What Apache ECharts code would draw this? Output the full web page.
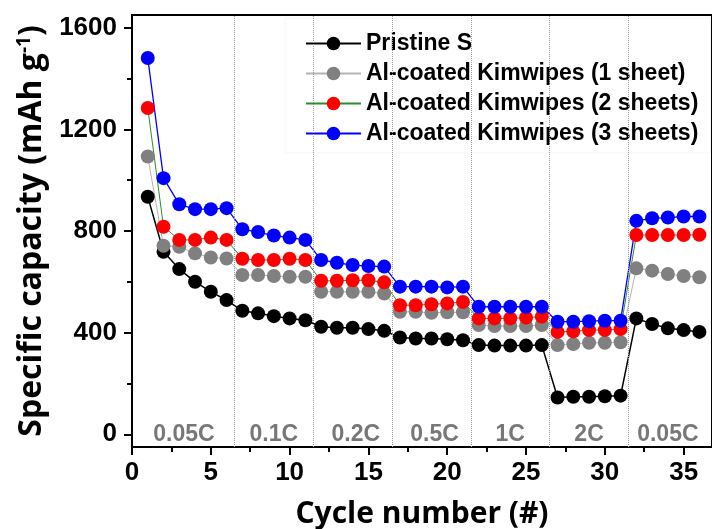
<!DOCTYPE html>
<html>
<head>
<meta charset="utf-8">
<script src="https://cdn.jsdelivr.net/npm/echarts@6/dist/echarts.min.js"></script>
<style>
  html, body { margin: 0; padding: 0; background: #fff; }
  #chart { width: 712px; height: 529px; }
</style>
</head>
<body>
<div id="chart"></div>
<script>
// Rate-capability data
const cycles = [1,2,3,4,5,6,7,8,9,10,11,12,13,14,15,16,17,18,19,20,21,22,23,24,25,26,27,28,29,30,31,32,33,34,35,36]
const pristine = [935,718,650,600,561,528,486,476,465,456,449,423,419,419,414,407,381,377,377,374,370,351,349,349,349,351,145,148,148,150,152,456,434,417,410,403]
const oneSheet = [1093,742,738,712,696,692,627,627,623,620,620,561,561,561,561,554,482,482,478,480,480,430,426,426,426,430,351,355,360,360,362,653,644,631,623,618]
const twoSheets = [1284,817,765,765,774,765,691,686,686,691,686,604,604,606,606,598,508,508,512,515,521,456,456,456,459,463,403,405,410,410,414,784,784,784,784,785]
const threeSheets = [1481,1008,905,886,886,890,807,796,782,774,765,686,675,666,662,660,581,581,581,578,581,502,502,502,502,502,443,443,445,447,447,840,850,853,857,857]

const seriesNames = ['Pristine S', 'Al-coated Kimwipes (1 sheet)', 'Al-coated Kimwipes (2 sheets)', 'Al-coated Kimwipes (3 sheets)']

// C-rate segments
const rateLabels = ['0.05C', '0.1C', '0.2C', '0.5C', '1C', '2C', '0.05C']
const rateCenters = [3.3, 9, 14.2, 19.2, 24, 29, 34]
const rateBounds = [6.5, 11.5, 16.5, 21.5, 26.5, 31.5]

const xMajor = [0, 5, 10, 15, 20, 25, 30, 35]
const xMinor = [2.5, 7.5, 12.5, 17.5, 22.5, 27.5, 32.5]
const yMajor = [0, 400, 800, 1200, 1600]
const yMinor = [200, 600, 1000, 1400]

const ARIAL = 'Liberation Sans'
const HUMAN = 'Open Sans'

function makeSeries(name, vals, dot, line, width) {
  return {
    name,
    type: 'line',
    data: cycles.map((c, i) => [c, vals[i]]),
    symbol: 'circle',
    symbolSize: 14,
    itemStyle: { color: dot },
    lineStyle: { color: line, width },
    emphasis: { disabled: true },
  }
}

const hiddenAxis = {
  axisLabel: { show: false },
  axisLine: { show: false, onZero: false },
  splitLine: { show: false },
}

const plain = v => String(v)

const option = {
  animation: false,
  backgroundColor: '#fff',
  grid: {
    left: 132, right: 0, top: 15, bottom: 82,
    containLabel: false,
    outerBoundsMode: 'none',
    show: true, borderColor: '#000', borderWidth: 2,
  },
  legend: {
    data: seriesNames,
    orient: 'vertical',
    left: 285,
    top: 18,
    padding: [14, 12, 8, 20],
    backgroundColor: '#fff',
    borderColor: '#f4f4f4',
    borderWidth: 1,
    itemWidth: 55,
    itemHeight: 17,
    itemGap: 7,
    textStyle: { fontFamily: ARIAL, fontWeight: 'bold', fontSize: 23, color: '#000', lineHeight: 22 },
  },
  xAxis: [
    {
      type: 'value', min: 0, max: 36.8,
      name: 'Cycle number (#)',
      nameLocation: 'middle',
      nameGap: 52,
      nameTextStyle: { fontFamily: HUMAN, fontWeight: 'bold', fontSize: 30, color: '#000' },
      axisLine: { show: true, onZero: false, lineStyle: { color: '#000', width: 2 } },
      axisTick: { show: true, customValues: xMajor, length: 8, lineStyle: { color: '#000', width: 2 } },
      axisLabel: { customValues: xMajor, formatter: plain, margin: 13, fontFamily: ARIAL, fontWeight: 'bold', fontSize: 26, color: '#000' },
      splitLine: { show: false },
    },
    {
      type: 'value', min: 0, max: 36.8, position: 'bottom',
      ...hiddenAxis,
      axisTick: { show: true, customValues: xMinor, length: 5, lineStyle: { color: '#000', width: 2 } },
    },
  ],
  yAxis: [
    {
      type: 'value', min: -50, max: 1650,
      name: '{a|Specific capacity (mAh g}{s|-1}{a|)}',
      nameLocation: 'middle',
      nameGap: 81,
      nameTextStyle: {
        rich: {
          a: { fontFamily: HUMAN, fontWeight: 'bold', fontSize: 32, color: '#000', lineHeight: 35 },
          s: { fontFamily: HUMAN, fontWeight: 'bold', fontSize: 19, color: '#000', lineHeight: 35, verticalAlign: 'top', padding: [0, 0, 12, 0] },
        },
      },
      axisLine: { show: true, onZero: false, lineStyle: { color: '#000', width: 2 } },
      axisTick: { show: true, customValues: yMajor, length: 8, lineStyle: { color: '#000', width: 2 } },
      axisLabel: { customValues: yMajor, formatter: plain, margin: 15, fontFamily: ARIAL, fontWeight: 'bold', fontSize: 26, color: '#000' },
      splitLine: { show: false },
    },
    {
      type: 'value', min: -50, max: 1650, position: 'left',
      ...hiddenAxis,
      axisTick: { show: true, customValues: yMinor, length: 5, lineStyle: { color: '#000', width: 2 } },
    },
  ],
  series: [
    {
      name: 'rates',
      type: 'scatter',
      symbolSize: 1,
      itemStyle: { color: 'rgba(0,0,0,0)' },
      silent: true,
      z: 1,
      data: rateCenters.map((x, i) => ({ name: rateLabels[i], value: [x, 0] })),
      label: {
        show: true, position: 'inside', formatter: '{b}',
        fontFamily: ARIAL, fontWeight: 'bold', fontSize: 23, color: '#555',
      },
      markLine: {
        silent: true,
        symbol: ['none', 'none'],
        label: { show: false },
        lineStyle: { color: '#999', type: 'dotted', width: 1 },
        data: rateBounds.map(x => ({ xAxis: x })),
      },
    },
    makeSeries(seriesNames[0], pristine, '#000000', '#000000', 1.5),
    makeSeries(seriesNames[1], oneSheet, '#808080', '#b4b4b4', 1),
    makeSeries(seriesNames[2], twoSheets, '#ff0000', '#2e8b2e', 1),
    makeSeries(seriesNames[3], threeSheets, '#0000ff', '#0000ff', 1.3),
  ],
}

const chart = echarts.init(document.getElementById('chart'))
chart.setOption(option)
</script>
</body>
</html>
